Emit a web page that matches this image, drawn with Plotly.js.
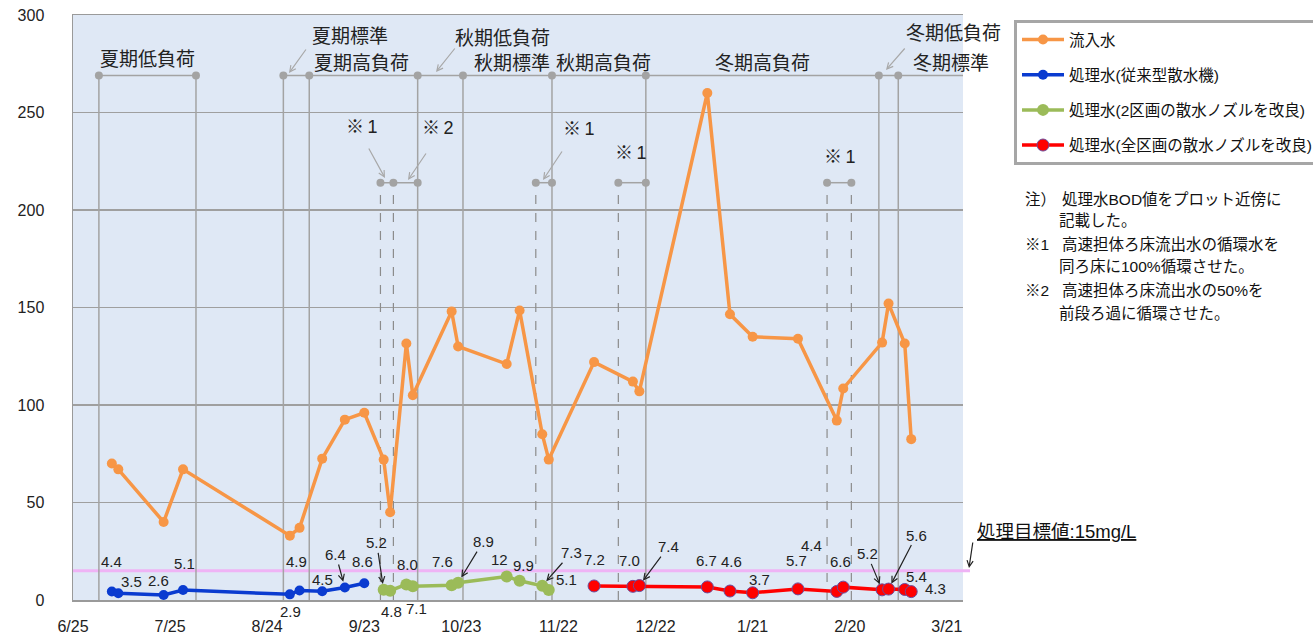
<!DOCTYPE html>
<html><head><meta charset="utf-8">
<script src="https://cdn.plot.ly/plotly-3.0.1.min.js"></script>
<style>html,body{margin:0;padding:0;background:#fff}#chart{width:1313px;height:639px}</style>
</head><body><div id="chart"></div>
<script>
// ---------- data ----------
const inflowDates = ['2015-07-07','2015-07-09','2015-07-23','2015-07-29','2015-08-31','2015-09-03','2015-09-10','2015-09-17','2015-09-23',
  '2015-09-29','2015-10-01','2015-10-06','2015-10-08','2015-10-20','2015-10-22','2015-11-06','2015-11-10','2015-11-17','2015-11-19',
  '2015-12-03','2015-12-15','2015-12-17','2016-01-07','2016-01-14','2016-01-21','2016-02-04','2016-02-16','2016-02-18','2016-03-01','2016-03-03','2016-03-08','2016-03-10'];
const inflowValues = [70,67,40,67,33,37,72.5,92.5,96, 72,45,131.5,105,148,130,121,148.5,85,72, 122,112,107,260,146.5,135,134,92,108.5,132,152,131.5,82.5];

const blueDates = ['2015-07-07','2015-07-09','2015-07-23','2015-07-29','2015-08-31','2015-09-03','2015-09-10','2015-09-17','2015-09-23'];
const blueValues = [4.4,3.5,2.6,5.1,2.9,4.9,4.5,6.4,8.6];

const greenDates = ['2015-09-29','2015-10-01','2015-10-06','2015-10-08','2015-10-20','2015-10-22','2015-11-06','2015-11-10','2015-11-17','2015-11-19'];
const greenValues = [5.2,4.8,8.0,7.1,7.6,8.9,12,9.9,7.3,5.1];

const redDates = ['2015-12-03','2015-12-15','2015-12-17','2016-01-07','2016-01-14','2016-01-21','2016-02-04','2016-02-16','2016-02-18','2016-03-01','2016-03-03','2016-03-08','2016-03-10'];
const redValues = [7.2,7.0,7.4,6.7,4.6,3.7,5.7,4.4,6.6,5.2,5.6,5.4,4.3];

const seriesNames = ['流入水','処理水(従来型散水機)','処理水(2区画の散水ノズルを改良)','処理水(全区画の散水ノズルを改良)'];

const tickVals = ['2015-06-25','2015-07-25','2015-08-24','2015-09-23','2015-10-23','2015-11-22','2015-12-22','2016-01-21','2016-02-20','2016-03-21'];
const tickText = ['6/25','7/25','8/24','9/23','10/23','11/22','12/22','1/21','2/20','3/21'];

const targetValue = 15;
const targetLabel = '処理目標値:15mg/L';

// period boundaries (solid lines) and bracket level
const boundaryDates = ['2015-07-03','2015-08-02','2015-08-29','2015-09-06','2015-10-09 12:00','2015-10-23 12:00','2015-11-20','2015-12-19','2016-02-29','2016-03-06'];
const bracketLevel = 269;
const periodLabels = ['夏期低負荷','夏期標準','夏期高負荷','秋期低負荷','秋期標準','秋期高負荷','冬期高負荷','冬期低負荷','冬期標準'];

// ※ remark brackets (dashed lines)
const remarkGroups = [['2015-09-28','2015-10-02','2015-10-09 12:00'],['2015-11-15','2015-11-20'],['2015-12-10 12:00','2015-12-19'],['2016-02-13','2016-02-20 12:00']];
const dashedDates = ['2015-09-28','2015-10-02','2015-11-15','2015-12-10 12:00','2016-02-13','2016-02-20 12:00'];
const remarkLevel = 214;
const remarkLabels = ['※1','※2','※1','※1','※1'];

const noteHeads = ['注）','※1','※2'];
const noteLines = ['処理水BOD値をプロット近傍に','記載した。','高速担体ろ床流出水の循環水を','同ろ床に100%循環させた。','高速担体ろ床流出水の50%を','前段ろ過に循環させた。'];

// ---------- styles / layout helpers ----------
const L = 73, T = 15, R = 963, B = 600;
const W = R - L, H = B - T;
const px = x => (x - L) / W;
const py = y => (B - y) / H;
const FONT = 'Liberation Sans, Noto Sans CJK JP, sans-serif';
const GRAY = '#a3a3a3';

const fmt = v => v >= 10 ? String(Math.round(v)) : v.toFixed(1);

// label offsets: [dx, dyUp, arrow]
const blueOff = [[0,30],[13,12],[-5,14],[1,27],[1,-17],[-3,29],[0,12],[-9,33,1],[-2,22]];
const greenOff = [[-7,47,1],[1,-21],[1,20],[4,-22],[-9,24],[25,41,1],[-7,17],[4,15],[29,33,1],[18,11]];
const redOff = [[0,26],[-3,26],[29,39,1],[-1,26],[2,30],[7,13],[-1,28],[-25,46],[-3,26],[-15,36,1],[28,54,1],[12,13],[24,3]];

const periodPos = [[147,60,'center'],[310,37,'left'],[312,63,'left'],[453,39,'left'],[472,63,'left'],[554,63,'left'],[713,63,'left'],[904,33,'left'],[911,63,'left']];
const remarkPos = [[362,127],[438,128],[579,129],[631,153],[840,157]];
const remarkArrows = [[368,147,385,178],[427,152,408,180],[563,150,543,180]];
const periodArrows = [[307,48,289,73],[456,47,436,72],[906,47,886,70]];

// ---------- traces ----------
const traces = [];
traces.push({x: boundaryDates.slice(0,2), y: boundaryDates.slice(0,2).map(()=>bracketLevel), mode:'lines+markers',
  line:{color:GRAY,width:1.5}, marker:{color:GRAY,size:8}, showlegend:false, hoverinfo:'skip'});
traces.push({x: boundaryDates.slice(2), y: boundaryDates.slice(2).map(()=>bracketLevel), mode:'lines+markers',
  line:{color:GRAY,width:1.5}, marker:{color:GRAY,size:8}, showlegend:false, hoverinfo:'skip'});
remarkGroups.forEach(g => traces.push({x:g, y:g.map(()=>remarkLevel), mode:'lines+markers',
  line:{color:GRAY,width:1.5}, marker:{color:GRAY,size:8}, showlegend:false, hoverinfo:'skip'}));

traces.push({x: inflowDates, y: inflowValues, name: seriesNames[0], mode:'lines+markers', legendgroup:'a',
  line:{color:'#f79646',width:3.5}, marker:{color:'#f79646',size:10}});
traces.push({x: blueDates, y: blueValues, name: seriesNames[1], mode:'lines+markers', legendgroup:'b',
  line:{color:'#0a3bd0',width:3.5}, marker:{color:'#0a3bd0',size:10}});
traces.push({x: greenDates, y: greenValues, name: seriesNames[2], mode:'lines+markers', legendgroup:'c',
  line:{color:'#9bbb59',width:3.5}, marker:{color:'#9bbb59',size:12}});
traces.push({x: redDates, y: redValues, name: seriesNames[3], mode:'lines+markers', legendgroup:'d',
  line:{color:'#ff0000',width:3.5}, marker:{color:'#ff0000',size:12,line:{color:'#6a4c9c',width:1}}});

// ---------- shapes ----------
const shapes = [];
boundaryDates.forEach(d => shapes.push({type:'line', xref:'x', yref:'y', x0:d, x1:d, y0:0, y1:bracketLevel,
  line:{color:GRAY,width:1.5}, layer:'between'}));
dashedDates.forEach(d => shapes.push({type:'line', xref:'x', yref:'y', x0:d, x1:d, y0:0, y1:remarkLevel,
  line:{color:'#8c8c8c',width:1.2,dash:'dash'}, layer:'between'}));
shapes.push({type:'line', xref:'x', yref:'y', x0:boundaryDates[boundaryDates.length-1], x1:'2016-03-26', y0:bracketLevel, y1:bracketLevel,
  line:{color:GRAY,width:1.5}, layer:'between'});
shapes.push({type:'line', xref:'paper', yref:'y', x0:0, x1:px(970), y0:targetValue, y1:targetValue,
  line:{color:'#efb3f5',width:3}, layer:'between'});

// ---------- annotations ----------
const ann = [];
function dataLabels(dates, vals, offs) {
  vals.forEach((v,i) => {
    const o = offs[i];
    if (o[2]) {
      ann.push({x:dates[i], y:v, xref:'x', yref:'y', text:fmt(v), showarrow:true, ax:o[0], ay:-o[1],
        arrowhead:5, arrowsize:1, arrowwidth:1.2, arrowcolor:'#222', standoff:6,
        font:{family:FONT,size:15,color:'#222'}});
    } else {
      ann.push({x:dates[i], y:v, xref:'x', yref:'y', text:fmt(v), showarrow:false, xshift:o[0], yshift:o[1],
        font:{family:FONT,size:15,color:'#222'}});
    }
  });
}
dataLabels(blueDates, blueValues, blueOff);
dataLabels(greenDates, greenValues, greenOff);
dataLabels(redDates, redValues, redOff);

periodLabels.forEach((t,i) => {
  const p = periodPos[i];
  ann.push({xref:'paper', yref:'paper', x:px(p[0]), y:py(p[1]), text:t, showarrow:false, xanchor:p[2], yanchor:'middle',
    font:{family:FONT,size:19,color:'#222'}});
});
periodArrows.forEach(a => ann.push({xref:'paper', yref:'paper', x:px(a[2]), y:py(a[3]), text:'', showarrow:true,
  ax:a[0]-a[2], ay:a[1]-a[3], arrowhead:5, arrowsize:1, arrowwidth:1.2, arrowcolor:'#a8a8a8'}));

remarkLabels.forEach((t,i) => {
  const p = remarkPos[i];
  ann.push({xref:'paper', yref:'paper', x:px(p[0]), y:py(p[1]), text:t.replace('※','※\u2009'), showarrow:false,
    xanchor:'center', yanchor:'middle', font:{family:FONT,size:18,color:'#222'}});
});
remarkArrows.forEach(a => ann.push({xref:'paper', yref:'paper', x:px(a[2]), y:py(a[3]), text:'', showarrow:true,
  ax:a[0]-a[2], ay:a[1]-a[3], arrowhead:5, arrowsize:1, arrowwidth:1.2, arrowcolor:'#a8a8a8'}));

ann.push({xref:'paper', yref:'paper', x:px(975), y:py(531), text:'<u>'+targetLabel+'</u>', showarrow:false,
  xanchor:'left', yanchor:'middle', font:{family:FONT,size:18.5,color:'#111'}});
ann.push({xref:'paper', yref:'paper', x:px(969), y:py(568), text:'', showarrow:true, ax:4, ay:-27,
  arrowhead:5, arrowsize:1, arrowwidth:1.2, arrowcolor:'#222'});

const headY = [199,244,290];
noteHeads.forEach((t,i) => ann.push({xref:'paper', yref:'paper', x:px(1023), y:py(headY[i]), text:t, showarrow:false,
  xanchor:'left', yanchor:'middle', font:{family:FONT,size:15.5,color:'#111'}}));
const lineY = [199,221,244,266,290,313];
const lineX = [1060,1057,1060,1057,1060,1057];
noteLines.forEach((t,i) => ann.push({xref:'paper', yref:'paper', x:px(lineX[i]), y:py(lineY[i]), text:t, showarrow:false,
  xanchor:'left', yanchor:'middle', font:{family:FONT,size:15.5,color:'#111'}}));

const layout = {
  width:1313, height:639,
  margin:{l:L, r:1313-R, t:T, b:639-B, autoexpand:false},
  paper_bgcolor:'#ffffff', plot_bgcolor:'#dfe8f5',
  showlegend:true,
  legend:{x:px(1014), y:py(20), xanchor:'left', yanchor:'top', bgcolor:'#ffffff', bordercolor:'#a6a6a6', borderwidth:3,
    font:{family:FONT,size:15.5,color:'#111'}, traceorder:'grouped', tracegroupgap:12, itemwidth:42},
  xaxis:{type:'date', range:['2015-06-25','2016-03-26'], tickvals:tickVals, ticktext:tickText, showgrid:false,
    showline:true, linecolor:'#9a9a9a', linewidth:1.5, mirror:true, ticks:'outside', ticklen:11, tickcolor:'rgba(0,0,0,0)',
    tickfont:{family:FONT,size:16,color:'#222'}, zeroline:false, fixedrange:true},
  yaxis:{range:[0,300], dtick:50, tick0:0, showgrid:true, gridcolor:'#9f9f9f', gridwidth:1.5,
    showline:true, linecolor:'#9a9a9a', linewidth:1.5, ticks:'outside', ticklen:24, tickcolor:'rgba(0,0,0,0)',
    tickfont:{family:FONT,size:16,color:'#222'}, zeroline:false, fixedrange:true},
  shapes:shapes, annotations:ann, hovermode:false
};
Plotly.newPlot('chart', traces, layout, {staticPlot:true, displayModeBar:false});
</script>
</body></html>
